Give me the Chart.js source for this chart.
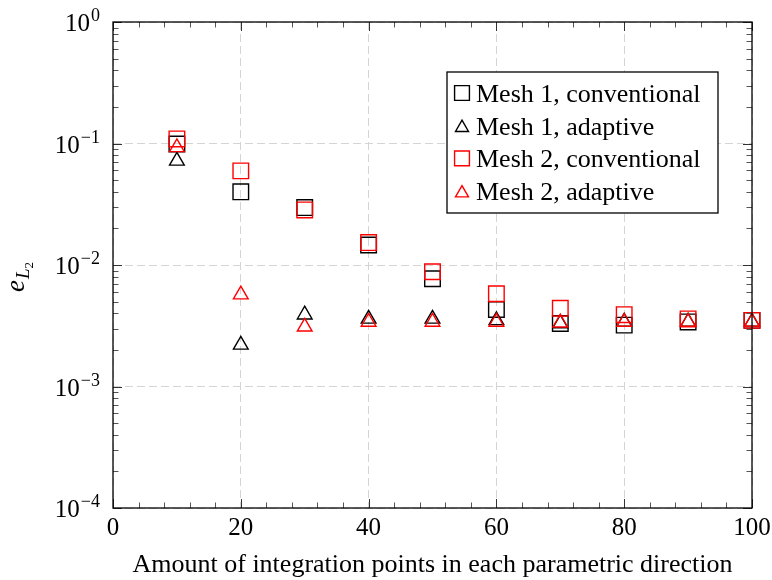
<!DOCTYPE html>
<html>
<head>
<meta charset="utf-8">
<script src="https://cdn.jsdelivr.net/npm/chart.js@4.4.0/dist/chart.umd.min.js"></script>
<style>
  html, body { margin: 0; padding: 0; background: #fff; }
  #wrap { width: 772px; height: 580px; position: relative; }
</style>
</head>
<body>
<div id="wrap"><canvas id="chart"></canvas></div>
<script>
// integration points per direction
const points = [10, 20, 30, 40, 50, 60, 70, 80, 90, 100];

// error values
const mesh1Conventional = [0.099, 0.040, 0.0297, 0.0146, 0.0077, 0.0043, 0.0033, 0.0032, 0.0034, 0.0035];
const mesh1Adaptive     = [0.072, 0.0022, 0.0039, 0.0036, 0.0036, 0.0035, 0.0033, 0.0034, 0.0034, 0.0034];
const mesh2Conventional = [0.109, 0.0595, 0.0284, 0.0153, 0.0088, 0.0058, 0.0044, 0.0039, 0.0036, 0.0035];
const mesh2Adaptive     = [0.093, 0.0057, 0.0031, 0.0034, 0.0034, 0.0034, 0.00335, 0.0034, 0.0034, 0.0034];

const seriesLabels = ['Mesh 1, conventional', 'Mesh 1, adaptive', 'Mesh 2, conventional', 'Mesh 2, adaptive'];
const xTicks = [0, 20, 40, 60, 80, 100];
const yExponents = [0, -1, -2, -3, -4];
const xTitle = 'Amount of integration points in each parametric direction';

const serif = "'Liberation Serif', 'DejaVu Serif', serif";

function toXY(values) {
  return values.map((v, i) => ({ x: points[i], y: v }));
}

function series(label, values, color, style, radius, order) {
  return {
    label: label,
    data: toXY(values),
    showLine: false,
    pointStyle: style,
    pointRadius: radius,
    pointHoverRadius: radius,
    pointBorderWidth: 1.4,
    borderColor: color,
    backgroundColor: 'rgba(0,0,0,0)',
    clip: false,
    order: order
  };
}

function drawMarker(ctx, style, color, radius, x, y) {
  const opts = { pointStyle: style, radius: radius, rotation: 0, borderWidth: 1.4 };
  ctx.save();
  ctx.strokeStyle = color;
  ctx.fillStyle = 'rgba(0,0,0,0)';
  ctx.lineWidth = 1.4;
  Chart.helpers.drawPoint(ctx, opts, x, y);
  ctx.restore();
}

const frame = {
  id: 'frame',
  afterDraw(chart) {
    const { ctx, chartArea: a, scales } = chart;
    const xs = scales.x, ys = scales.y;
    ctx.save();

    // minor ticks
    ctx.strokeStyle = '#555';
    ctx.lineWidth = 1;
    ctx.beginPath();
    for (let e = -4; e < 0; e++) {
      for (let k = 2; k <= 9; k++) {
        const py = Math.round(ys.getPixelForValue(k * Math.pow(10, e))) + 0.5;
        ctx.moveTo(a.left, py); ctx.lineTo(a.left + 5.5, py);
        ctx.moveTo(a.right, py); ctx.lineTo(a.right - 5.5, py);
      }
    }
    for (let v = 4; v < 100; v += 4) {
      if (v % 20 === 0) continue;
      const px = Math.round(xs.getPixelForValue(v)) + 0.5;
      ctx.moveTo(px, a.bottom); ctx.lineTo(px, a.bottom - 5.5);
      ctx.moveTo(px, a.top); ctx.lineTo(px, a.top + 5.5);
    }
    ctx.stroke();

    // major ticks
    ctx.strokeStyle = '#333';
    ctx.beginPath();
    yExponents.forEach(e => {
      const py = Math.round(ys.getPixelForValue(Math.pow(10, e))) + 0.5;
      ctx.moveTo(a.left, py); ctx.lineTo(a.left + 9, py);
      ctx.moveTo(a.right, py); ctx.lineTo(a.right - 9, py);
    });
    xTicks.forEach(v => {
      const px = Math.round(xs.getPixelForValue(v)) + 0.5;
      ctx.moveTo(px, a.bottom); ctx.lineTo(px, a.bottom - 9);
      ctx.moveTo(px, a.top); ctx.lineTo(px, a.top + 9);
    });
    ctx.stroke();

    // box
    ctx.strokeStyle = '#000';
    ctx.lineWidth = 1.3;
    ctx.strokeRect(a.left, a.top, a.right - a.left, a.bottom - a.top);

    ctx.fillStyle = '#000';
    // x tick labels
    ctx.font = '25px ' + serif;
    ctx.textAlign = 'center';
    ctx.textBaseline = 'alphabetic';
    xTicks.forEach(v => {
      ctx.fillText(String(v), xs.getPixelForValue(v), a.bottom + 27);
    });

    // y tick labels 10^e
    yExponents.forEach(e => {
      const py = ys.getPixelForValue(Math.pow(10, e));
      const sup = e === 0 ? '0' : '\u2212' + Math.abs(e);
      ctx.font = '18px ' + serif;
      const supW = ctx.measureText(sup).width;
      const right = a.left - 13;
      ctx.textAlign = 'left';
      ctx.fillText(sup, right - supW, py - 1);
      ctx.font = '25px ' + serif;
      ctx.textAlign = 'right';
      ctx.fillText('10', right - supW - 1, py + 9);
    });

    // x title
    ctx.font = '26px ' + serif;
    ctx.textAlign = 'center';
    ctx.fillText(xTitle, (a.left + a.right) / 2, a.bottom + 64);

    // y title e_{L_2}
    ctx.save();
    ctx.translate(24, 292);
    ctx.rotate(-Math.PI / 2);
    ctx.textAlign = 'left';
    ctx.font = 'italic 27px ' + serif;
    ctx.fillText('e', 0, 0);
    let off = ctx.measureText('e').width + 1;
    ctx.font = 'italic 19px ' + serif;
    ctx.fillText('L', off, 5);
    off += ctx.measureText('L').width;
    ctx.font = '13px ' + serif;
    ctx.fillText('2', off, 9);
    ctx.restore();

    // legend
    const lx = a.right - 305, ly = a.top + 50, lw = 271, lh = 141;
    ctx.fillStyle = '#fff';
    ctx.fillRect(lx, ly, lw, lh);
    ctx.strokeStyle = '#000';
    ctx.lineWidth = 1.3;
    ctx.strokeRect(lx, ly, lw, lh);
    chart.data.datasets.forEach((ds, i) => {
      const cy = ly + 21 + i * 32.7;
      const r = ds.pointStyle === 'rect' ? 10.5 : 7.5;
      drawMarker(ctx, ds.pointStyle, ds.borderColor, r, lx + 15, cy + (ds.pointStyle === 'triangle' ? 2 : 0));
      ctx.fillStyle = '#000';
      ctx.font = '26px ' + serif;
      ctx.textAlign = 'left';
      ctx.fillText(ds.label, lx + 29, cy + 9);
    });

    ctx.restore();
  }
};

new Chart(document.getElementById('chart'), {
  type: 'scatter',
  data: {
    datasets: [
      series(seriesLabels[0], mesh1Conventional, '#000000', 'rect', 11, 4),
      series(seriesLabels[1], mesh1Adaptive, '#000000', 'triangle', 8.5, 3),
      series(seriesLabels[2], mesh2Conventional, '#ff0000', 'rect', 11, 2),
      series(seriesLabels[3], mesh2Adaptive, '#ff0000', 'triangle', 8.5, 1)
    ]
  },
  options: {
    responsive: true,
    maintainAspectRatio: false,
    animation: false,
    layout: { padding: { left: 113, top: 22, right: 20, bottom: 72 } },
    plugins: {
      legend: { display: false },
      tooltip: { enabled: false }
    },
    scales: {
      x: {
        type: 'linear',
        min: 0,
        max: 100,
        ticks: { stepSize: 20, display: false },
        grid: { color: '#d4d4d4', lineWidth: 1, drawTicks: false },
        border: { display: false, dash: [8, 4] }
      },
      y: {
        type: 'logarithmic',
        min: 1e-4,
        max: 1,
        afterBuildTicks: scale => {
          scale.ticks = yExponents.map(e => ({ value: Math.pow(10, e) }));
        },
        ticks: { display: false },
        grid: { color: '#d4d4d4', lineWidth: 1, drawTicks: false },
        border: { display: false, dash: [8, 4] }
      }
    }
  },
  plugins: [frame]
});
</script>
</body>
</html>
